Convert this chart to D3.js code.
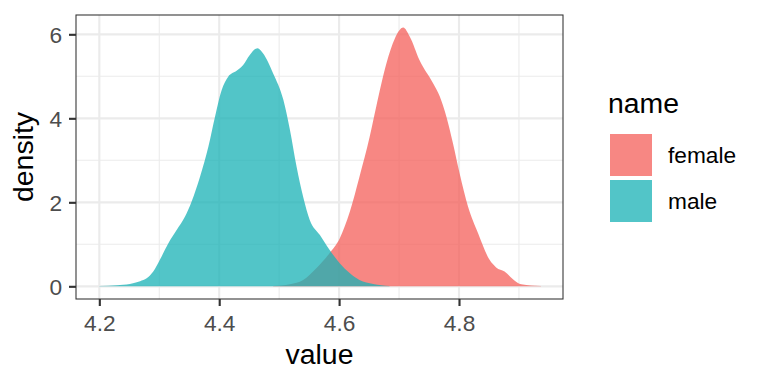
<!DOCTYPE html>
<html>
<head>
<meta charset="utf-8">
<script src="https://cdn.jsdelivr.net/npm/d3@7"></script>
<style>
  html, body { margin: 0; padding: 0; background: #fff; }
  text { font-family: "Liberation Sans", Arial, Helvetica, sans-serif; }
</style>
</head>
<body>
<svg id="chart" width="768" height="384"></svg>
<script>
// ---- data ----
const seriesNames = ["female", "male"];
const seriesColors = ["#F45F5A", "#18B2B6"];

const femaleX = [4.490, 4.518, 4.540, 4.562, 4.584, 4.601, 4.618, 4.634, 4.651, 4.662, 4.679, 4.693, 4.707,
                 4.718, 4.734, 4.757, 4.768, 4.779, 4.790, 4.801, 4.815, 4.832, 4.851, 4.862, 4.876, 4.890, 4.904, 4.937];
const femaleY = [0.008, 0.048, 0.15, 0.43, 0.79, 1.14, 1.78, 2.61, 3.56, 4.28, 5.31, 5.90, 6.16,
                 5.94, 5.39, 4.83, 4.52, 4.04, 3.40, 2.69, 1.90, 1.26, 0.63, 0.45, 0.35, 0.17, 0.048, 0.008];

const maleX = [4.200, 4.229, 4.251, 4.268, 4.279, 4.290, 4.301, 4.315, 4.329, 4.343, 4.354, 4.368, 4.382,
               4.393, 4.404, 4.415, 4.429, 4.440, 4.451, 4.464, 4.473, 4.490, 4.507, 4.518, 4.529, 4.540,
               4.551, 4.568, 4.584, 4.601, 4.618, 4.634, 4.657, 4.684];
const maleY = [0.008, 0.024, 0.056, 0.12, 0.19, 0.35, 0.63, 1.02, 1.34, 1.66, 2.02, 2.61, 3.33,
               4.04, 4.67, 4.99, 5.13, 5.27, 5.51, 5.67, 5.55, 5.07, 4.44, 3.72, 2.85, 2.13,
               1.58, 1.22, 0.87, 0.55, 0.31, 0.15, 0.056, 0.008];

const xTicks = [4.2, 4.4, 4.6, 4.8];
const xMinor = [4.3, 4.5, 4.7, 4.9];
const yTicks = [0, 2, 4, 6];
const yMinor = [1, 3, 5];
const xTitle = "value";
const yTitle = "density";
const legendTitle = "name";

// ---- layout ----
const svg = d3.select("#chart");
const P = { left: 76, right: 563, top: 15, bottom: 299 };
const fillAlpha = 0.75;

const x = d3.scaleLinear().domain([4.1611, 4.9735]).range([P.left, P.right]);
const y = d3.scaleLinear().domain([-0.302, 6.46]).range([P.bottom, P.top]);

// panel background
svg.append("rect").attr("x", P.left).attr("y", P.top)
  .attr("width", P.right - P.left).attr("height", P.bottom - P.top).attr("fill", "#fff");

const grid = svg.append("g");
// minor grid
grid.selectAll(".xm").data(xMinor).join("line")
  .attr("x1", d => x(d)).attr("x2", d => x(d)).attr("y1", P.top).attr("y2", P.bottom)
  .attr("stroke", "#EBEBEB").attr("stroke-width", 1.07);
grid.selectAll(".ym").data(yMinor).join("line")
  .attr("y1", d => y(d)).attr("y2", d => y(d)).attr("x1", P.left).attr("x2", P.right)
  .attr("stroke", "#EBEBEB").attr("stroke-width", 1.07);
// major grid
grid.selectAll(".xM").data(xTicks).join("line")
  .attr("x1", d => x(d)).attr("x2", d => x(d)).attr("y1", P.top).attr("y2", P.bottom)
  .attr("stroke", "#EBEBEB").attr("stroke-width", 2.13);
grid.selectAll(".yM").data(yTicks).join("line")
  .attr("y1", d => y(d)).attr("y2", d => y(d)).attr("x1", P.left).attr("x2", P.right)
  .attr("stroke", "#EBEBEB").attr("stroke-width", 2.13);

// densities
const series = [
  { name: seriesNames[0], color: seriesColors[0], pts: femaleX.map((v, i) => [v, femaleY[i]]) },
  { name: seriesNames[1], color: seriesColors[1], pts: maleX.map((v, i) => [v, maleY[i]]) }
];
const area = d3.area().x(d => x(d[0])).y0(y(0)).y1(d => y(d[1])).curve(d3.curveMonotoneX);
svg.append("g").selectAll("path").data(series).join("path")
  .attr("d", d => area(d.pts))
  .attr("fill", d => d.color).attr("fill-opacity", fillAlpha);

// panel border
svg.append("rect").attr("x", P.left).attr("y", P.top)
  .attr("width", P.right - P.left).attr("height", P.bottom - P.top)
  .attr("fill", "none").attr("stroke", "#333333").attr("stroke-width", 1.07);

// axes
const xAxis = svg.append("g").attr("transform", `translate(0,${P.bottom})`)
  .call(d3.axisBottom(x).tickValues(xTicks).tickSize(7).tickPadding(9).tickFormat(d3.format(".1f")));
const yAxis = svg.append("g").attr("transform", `translate(${P.left},0)`)
  .call(d3.axisLeft(y).tickValues(yTicks).tickSize(7).tickPadding(7).tickFormat(d3.format("d")));
[xAxis, yAxis].forEach(g => {
  g.select(".domain").remove();
  g.selectAll(".tick line").attr("stroke", "#333333").attr("stroke-width", 2.13);
  g.selectAll(".tick text").attr("fill", "#4D4D4D").attr("font-size", 22.7)
    .attr("font-family", '"Liberation Sans", Arial, Helvetica, sans-serif');
});
yAxis.selectAll(".tick text").attr("dy", "0.35em");

// axis titles
svg.append("text").attr("x", (P.left + P.right) / 2).attr("y", 364)
  .attr("text-anchor", "middle").attr("font-size", 28.4).attr("fill", "#000").text(xTitle);
svg.append("text").attr("transform", `translate(33,${(P.top + P.bottom) / 2}) rotate(-90)`)
  .attr("text-anchor", "middle").attr("font-size", 28.4).attr("fill", "#000").text(yTitle);

// legend
const lg = svg.append("g");
lg.append("text").attr("x", 608).attr("y", 113).attr("font-size", 28.4).attr("fill", "#000").text(legendTitle);
const keys = lg.selectAll(".key").data(series).join("g")
  .attr("transform", (d, i) => `translate(610,${134 + i * 46})`);
keys.append("rect").attr("width", 42).attr("height", 42)
  .attr("fill", d => d.color).attr("fill-opacity", fillAlpha);
keys.append("text").attr("x", 58).attr("y", 21).attr("dy", "0.35em")
  .attr("font-size", 22.7).attr("fill", "#000").text(d => d.name);
</script>
</body>
</html>
